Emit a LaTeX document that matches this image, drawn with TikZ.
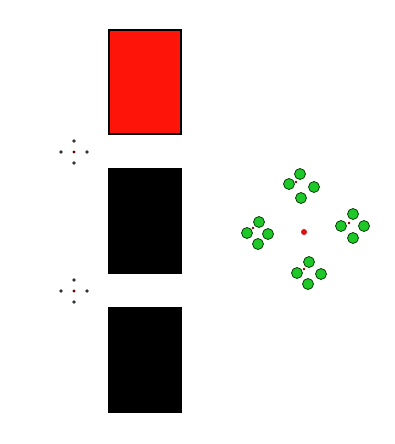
\documentclass[tikz,border=0pt]{standalone}
\usepackage{tikz}
\usetikzlibrary{positioning}

\definecolor{cardred}{RGB}{255,20,10}
\definecolor{dotgreen}{RGB}{30,200,40}
\definecolor{dotred}{RGB}{220,20,20}

\tikzset{
  card/.style={rectangle,draw=black,line width=0.9pt,minimum width=54pt,minimum height=78pt,inner sep=0pt},
  pip/.style={circle,fill=black!80,inner sep=0pt,minimum size=2.8pt},
  pipmid/.style={circle,fill=red!40!black,inner sep=0pt,minimum size=2.6pt},
  gdot/.style={circle,fill=dotgreen,draw=green!25!black,line width=0.6pt,inner sep=0pt,minimum size=8.2pt},
  gmark/.style={circle,fill=red!50!black,inner sep=0pt,minimum size=2.2pt},
  hub/.style={circle,fill=dotred,inner sep=0pt,minimum size=4.5pt}
}

\begin{document}
\begin{tikzpicture}[x=0.75pt,y=-0.75pt]
\useasboundingbox[fill=white] (0,0) rectangle (395,444);

% the three cards
\node[card,fill=cardred] (card1) at (145,82) {};
\node[card,fill=black] (card2) at (145,221) {};
\node[card,fill=black] (card3) at (145,360) {};

% little markers between the cards
\foreach \name/\cy in {m1/152, m2/291} {
  \node[pipmid] (\name) at (74,\cy) {};
  \node[pip] at (61,\cy) {};
  \node[pip] at (87,\cy) {};
  \node[pip] at (74,\cy-11) {};
  \node[pip] at (74,\cy+11) {};
}

% centre dot and the four green groups
\node[hub] (hub) at (304,232) {};
\node[gmark] (gtop) at (296,182) {};
\node[gmark] (gleft) at (253,228) {};
\node[gmark] (gright) at (349,223) {};
\node[gmark] (gbottom) at (304,269) {};
\foreach \gx/\gy in {300/174, 289/184, 314/187, 301/198,
                     259/222, 247/233, 268/234, 258/244,
                     353/214, 341/226, 364/226, 353/238,
                     309/262, 297/273, 321/274, 308/284} {
  \node[gdot] at (\gx,\gy) {};
}

\end{tikzpicture}
\end{document}
